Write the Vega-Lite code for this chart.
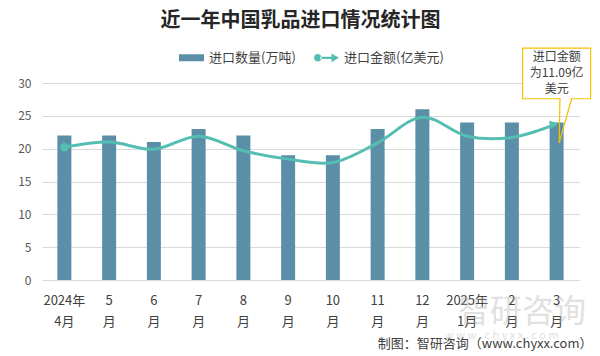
{
  "$schema": "https://vega.github.io/schema/vega-lite/v6.json",
  "width": 537,
  "height": 197,
  "autosize": {"type": "none"},
  "padding": {"left": 42, "top": 83, "right": 21, "bottom": 76},
  "background": "white",
  "config": {
    "font": "Noto Sans CJK SC",
    "view": {"stroke": null},
    "axis": {"labelFont": "Noto Sans CJK SC", "titleFont": "Noto Sans CJK SC"}
  },
  "title": {
    "text": "近一年中国乳品进口情况统计图",
    "fontSize": 20,
    "fontWeight": "bold",
    "color": "#262626",
    "anchor": "middle",
    "frame": "group",
    "offset": 14,
    "dx": -10
  },
  "datasets": {
    "main": [
      {"month": "2024年4月", "qty": 22, "amt": 9.43},
      {"month": "5月", "qty": 22, "amt": 9.8},
      {"month": "6月", "qty": 21, "amt": 9.29},
      {"month": "7月", "qty": 23, "amt": 10.22},
      {"month": "8月", "qty": 22, "amt": 9.19},
      {"month": "9月", "qty": 19, "amt": 8.59},
      {"month": "10月", "qty": 19, "amt": 8.35},
      {"month": "11月", "qty": 23, "amt": 9.75},
      {"month": "12月", "qty": 26, "amt": 11.57},
      {"month": "2025年1月", "qty": 24, "amt": 10.22},
      {"month": "2月", "qty": 24, "amt": 10.13},
      {"month": "3月", "qty": 24, "amt": 11.09}
    ],
    "note": [
      {"month": "3月", "top": 35.3, "bot": 27.6, "tip": 20.9, "ty": 34.0, "label": "进口金额\n为11.09亿\n美元"}
    ],
    "mark": [
      {"month": "2月", "wy": -4.9, "wy2": -8.6, "w1": "智研咨询", "w2": "w w w . c h y x x . c o m"}
    ]
  },
  "layer": [
    {
      "data": {"name": "main"},
      "mark": {"type": "bar", "width": 14},
      "encoding": {
        "x": {
          "field": "month",
          "type": "nominal",
          "sort": null,
          "scale": {"paddingInner": 0, "paddingOuter": 0},
          "axis": {
            "labelAngle": 0,
            "labelFontSize": 13,
            "labelColor": "#404040",
            "labelLineHeight": 21,
            "labelPadding": 14,
            "labelBaseline": "top",
            "ticks": false,
            "domain": false,
            "labelExpr": "indexof(datum.value,'年')>=0 ? [substring(datum.value,0,indexof(datum.value,'年')+1), substring(datum.value,indexof(datum.value,'年')+1)] : [replace(datum.value,'月',''), '月']",
            "title": "制图：智研咨询（www.chyxx.com）",
            "titleFontSize": 13,
            "titleFontWeight": "normal",
            "titleColor": "#404040",
            "titleAnchor": "end",
            "titleAlign": "right",
            "titleBaseline": "middle",
            "titleX": 550,
            "titleY": 63
          }
        },
        "y": {
          "field": "qty",
          "type": "quantitative",
          "scale": {"domain": [0, 30]},
          "axis": {
            "values": [0, 5, 10, 15, 20, 25, 30],
            "title": null,
            "labelFontSize": 12,
            "labelColor": "#595959",
            "labelPadding": 11,
            "ticks": false,
            "domain": false,
            "gridColor": "#d9d9d9",
            "gridWidth": 1
          }
        },
        "color": {
          "datum": "进口数量(万吨)",
          "type": "nominal",
          "scale": {"domain": ["进口数量(万吨)", "进口金额(亿美元)"], "range": ["#5B8FA7", "#55BEB3"]},
          "legend": {
            "orient": "none",
            "legendX": 137,
            "legendY": -38,
            "direction": "horizontal",
            "title": null,
            "symbolSize": 625,
            "labelFontSize": 13,
            "labelColor": "#404040",
            "labelOffset": 5,
            "columnPadding": 18,
            "encode": {
              "symbols": {
                "update": {
                  "shape": {"signal": "datum.value === '进口数量(万吨)' ? 'M-1,-0.28H1V0.28H-1Z' : 'M-1,0A0.3,0.3 0 1,0 -0.4,0A0.3,0.3 0 1,0 -1,0Z M-0.5,-0.09H0.5V0.09H-0.5Z M0.4,-0.35L1,0L0.4,0.35Z'"},
                  "fill": {"signal": "datum.value === '进口数量(万吨)' ? '#5B8FA7' : '#55BEB3'"},
                  "stroke": {"value": "transparent"},
                  "strokeWidth": {"value": 0},
                  "opacity": {"value": 1}
                }
              }
            }
          }
        }
      }
    },
    {
      "data": {"name": "main"},
      "encoding": {
        "x": {"field": "month", "type": "nominal", "sort": null},
        "y": {"field": "amt", "type": "quantitative", "scale": {"domain": [0, 14]}, "axis": null}
      },
      "layer": [
        {
          "mark": {"type": "line", "interpolate": "catmull-rom", "strokeWidth": 3},
          "encoding": {"color": {"datum": "进口金额(亿美元)", "type": "nominal"}}
        },
        {
          "transform": [{"filter": "datum.month === '2024年4月'"}],
          "mark": {"type": "point", "shape": "circle", "filled": true, "size": 70, "color": "#55BEB3", "opacity": 1}
        },
        {
          "transform": [{"filter": "datum.month === '3月'"}],
          "mark": {"type": "point", "shape": "triangle-right", "filled": true, "size": 70, "color": "#55BEB3", "opacity": 1, "angle": 346, "xOffset": -3}
        }
      ]
    },
    {
      "data": {"name": "note"},
      "mark": {"type": "bar", "width": 68, "fill": "white", "stroke": "#F5C000", "strokeWidth": 1.2},
      "encoding": {
        "x": {"field": "month", "type": "nominal", "sort": null},
        "y": {"field": "top", "type": "quantitative", "scale": {"domain": [0, 30]}, "axis": null},
        "y2": {"field": "bot"}
      }
    },
    {
      "data": {"name": "note"},
      "mark": {"type": "rule", "color": "white", "strokeWidth": 2.5, "xOffset": 4.2, "x2Offset": 14.2},
      "encoding": {
        "x": {"field": "month", "type": "nominal", "sort": null},
        "x2": {"field": "month"},
        "y": {"field": "bot", "type": "quantitative", "scale": {"domain": [0, 30]}, "axis": null},
        "y2": {"field": "bot"}
      }
    },
    {
      "data": {"name": "note"},
      "mark": {"type": "rule", "color": "#F5C000", "strokeWidth": 1.2, "xOffset": 3.3, "x2Offset": 2.6},
      "encoding": {
        "x": {"field": "month", "type": "nominal", "sort": null},
        "x2": {"field": "month"},
        "y": {"field": "bot", "type": "quantitative", "scale": {"domain": [0, 30]}, "axis": null},
        "y2": {"field": "tip"}
      }
    },
    {
      "data": {"name": "note"},
      "mark": {"type": "rule", "color": "#F5C000", "strokeWidth": 1.2, "xOffset": 15, "x2Offset": 2.6},
      "encoding": {
        "x": {"field": "month", "type": "nominal", "sort": null},
        "x2": {"field": "month"},
        "y": {"field": "bot", "type": "quantitative", "scale": {"domain": [0, 30]}, "axis": null},
        "y2": {"field": "tip"}
      }
    },
    {
      "data": {"name": "note"},
      "mark": {"type": "text", "fontSize": 12, "color": "#404040", "lineBreak": "\n", "lineHeight": 16, "align": "center", "baseline": "middle"},
      "encoding": {
        "x": {"field": "month", "type": "nominal", "sort": null},
        "y": {"field": "ty", "type": "quantitative", "scale": {"domain": [0, 30]}, "axis": null},
        "text": {"field": "label"}
      }
    },
    {
      "data": {"name": "mark"},
      "mark": {"type": "text", "fontSize": 32, "color": "#a8a8a8", "opacity": 0.35, "align": "center", "baseline": "middle", "dx": 10},
      "encoding": {
        "x": {"field": "month", "type": "nominal", "sort": null},
        "y": {"field": "wy", "type": "quantitative", "scale": {"domain": [0, 30]}, "axis": null},
        "text": {"field": "w1"}
      }
    },
    {
      "data": {"name": "mark"},
      "mark": {"type": "text", "fontSize": 11, "color": "#a8a8a8", "opacity": 0.35, "align": "center", "baseline": "middle", "dx": -10},
      "encoding": {
        "x": {"field": "month", "type": "nominal", "sort": null},
        "y": {"field": "wy2", "type": "quantitative", "scale": {"domain": [0, 30]}, "axis": null},
        "text": {"field": "w2"}
      }
    }
  ],
  "resolve": {"scale": {"y": "independent"}}
}
